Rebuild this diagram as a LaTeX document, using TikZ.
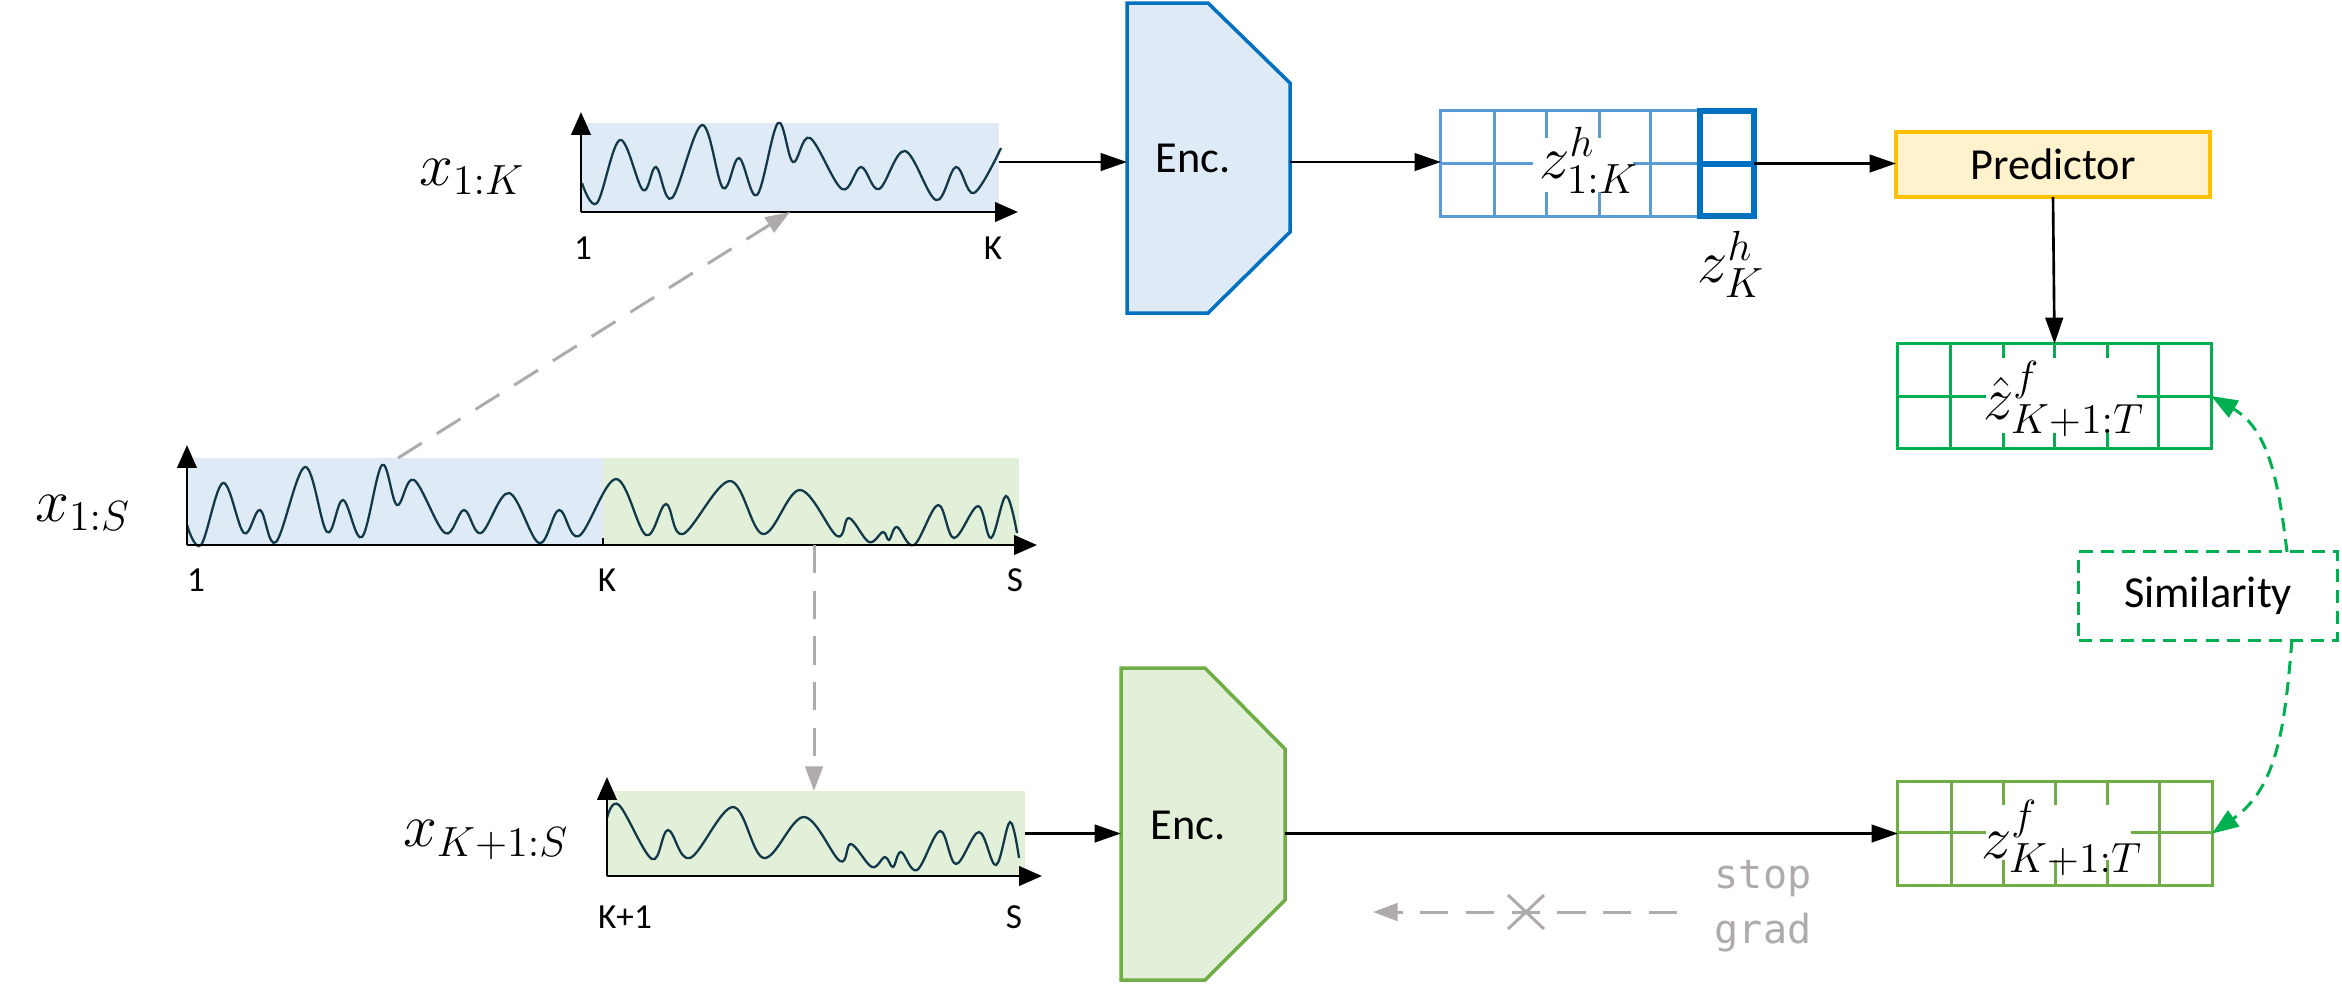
\documentclass[tikz,border=0pt]{standalone}
\usepackage[no-math]{fontspec}
\setmainfont{Carlito}
\newfontfamily\codefont{DejaVu Sans Mono}
\usetikzlibrary{arrows.meta,calc}

\definecolor{lblue}{HTML}{DEEBF7}
\definecolor{dblue}{HTML}{0070C0}
\definecolor{gblue}{HTML}{5B9BD5}
\definecolor{lgreen}{HTML}{E2F0D9}
\definecolor{mgreen}{HTML}{70AD47}
\definecolor{bgreen}{HTML}{00B050}
\definecolor{lyellow}{HTML}{FFF2CC}
\definecolor{dyellow}{HTML}{FFC000}
\definecolor{lgray}{HTML}{AFABAB}
\definecolor{wavec}{HTML}{12394A}

\begin{document}
\begin{tikzpicture}[x=0.01cm, y=-0.01cm,
  every node/.style={inner sep=0pt, outer sep=0pt},
  arr/.style={-{Triangle[length=7.5pt,width=5pt]}, line width=0.75pt, black},
  axisarr/.style={-{Triangle[length=6.5pt,width=5.5pt]}, line width=0.8pt, black},
  wavy/.style={draw=wavec, line width=0.65pt},
  gdash/.style={-{Triangle[length=7pt,width=5pt]}, lgray, line width=0.85pt, dash pattern=on 8pt off 5pt},
  gndash/.style={-{Triangle[length=7.5pt,width=5.5pt]}, bgreen, line width=0.85pt, dash pattern=on 3.7pt off 2.3pt},
  sans/.style={font=\fontsize{12.6}{15}\selectfont},
  ticklbl/.style={font=\fontsize{10}{12}\selectfont},
  mlbl/.style={font=\fontsize{16.5}{19}\selectfont},
  gridline/.style={line width=0.85pt},
]
\useasboundingbox (0,0) rectangle (2342,990);

% ---------- top chart x_{1:K} ----------
\node[minimum width=4.18cm, minimum height=0.89cm, fill=lblue] (g1) at (790,167.5) {};
\draw[wavy] plot[smooth, tension=0.6] coordinates {(582,183) (597,203) (620,140) (643,190) (656,167) (672,198) (702,125) (723,188) (739,158) (757,195) (778,123) (793,162) (810,138) (842,189) (861,167) (879,189) (905,151) (936,200) (956,167) (974,193) (1001,148)};
\draw[axisarr] (581,212) -- (581,112);
\draw[axisarr] (581,212) -- (1018,212);
\node[ticklbl] (t11) at (583,248) {1};
\node[ticklbl] (t12) at (993,248) {K};
\node[mlbl] (lx1) at (472,177) {$x_{1{:}K}$};

% ---------- middle chart x_{1:S} ----------
\node[minimum width=4.16cm, minimum height=0.87cm, fill=lblue] (g2a) at (395,501.5) {};
\node[minimum width=4.16cm, minimum height=0.87cm, fill=lgreen] (g2b) at (811,501.5) {};
\draw[wavy] plot[smooth, tension=0.6] coordinates {(187,525) (201,545) (223,483) (244,533) (260,510) (276,542) (305,467) (327,532) (343,500) (362,537) (382,465) (397,505) (414,480) (445,533) (464,510) (481,533) (509,493) (539,543) (559,510) (579,536) (616,479) (646,535) (666,504) (683,534) (730,481) (763,534) (800,490) (837,536) (849,518) (869,542) (883,532) (889,540) (897,527) (914,545) (938,505) (954,538) (978,506) (991,538) (1006,496) (1017,533)};
\draw[axisarr] (187,545) -- (187,445);
\draw[axisarr] (187,545) -- (1037,545);
\draw[black, line width=0.4pt] (603,538) -- (603,545);
\node[ticklbl] (t21) at (196,580) {1};
\node[ticklbl] (t22) at (607,580) {K};
\node[ticklbl] (t23) at (1015,580) {S};
\node[mlbl] (lx2) at (83,513) {$x_{1{:}S}$};

% ---------- bottom chart x_{K+1:S} ----------
\node[minimum width=4.18cm, minimum height=0.85cm, fill=lgreen] (g3) at (816,833.5) {};
\draw[wavy] plot[smooth, tension=0.6] coordinates {(607,818) (619,805) (652,859) (668,830) (690,858) (733,807) (764,858) (804,817) (840,861) (851,844) (872,867) (885,857) (893,867) (901,852) (917,870) (940,831) (956,864) (979,832) (996,865) (1010,822) (1019,858)};
\draw[axisarr] (607,876) -- (607,777);
\draw[axisarr] (607,876) -- (1042,876);
\node[ticklbl] (t31) at (625,917) {K+1};
\node[ticklbl] (t32) at (1014,917) {S};
\node[mlbl] (lx3) at (486,840) {$x_{K+1{:}S}$};

% ---------- encoders ----------
\filldraw[fill=lblue, draw=dblue, line width=1pt] (1127,3) -- (1208,3) -- (1290,83) -- (1290,232) -- (1208,313) -- (1127,313) -- cycle;
\node[minimum width=1.63cm, minimum height=3.10cm] (enc1) at (1208.5,158) {};
\node[sans] (enc1t) at (1193,158) {Enc.};

\filldraw[fill=lgreen, draw=mgreen, line width=1pt] (1121,668) -- (1205,668) -- (1285,749) -- (1285,900) -- (1205,980) -- (1121,980) -- cycle;
\node[minimum width=1.64cm, minimum height=3.12cm] (enc2) at (1203,824) {};
\node[sans] (enc2t) at (1188,825) {Enc.};

% ---------- z^h grid ----------
\node[draw=gblue, gridline, minimum width=3.13cm, minimum height=1.05cm] (zh) at (1597.5,163.5) {};
\draw[gblue, gridline] (1494,111) -- (1494,216) (1546,111) -- (1546,216) (1599,111) -- (1599,216) (1650,111) -- (1650,216) (1441,163.5) -- (1700,163.5);
\fill[white] (1533,138) rectangle (1633,192);
\node[draw=dblue, line width=1.7pt, minimum width=0.54cm, minimum height=1.05cm] (zK) at (1727,163.5) {};
\draw[dblue, line width=1.7pt] (zK.west) -- (zK.east);
\node[mlbl] (lzh) at (1589,160) {$z^{h}_{1{:}K}$};
\node[mlbl] (lzK) at (1731,264) {$z^{h}_{K}$};

% ---------- predictor ----------
\node[draw=dyellow, fill=lyellow, line width=1pt, minimum width=3.14cm, minimum height=0.65cm, sans] (pred) at (2053,164.5) {Predictor};

% ---------- hat z grid ----------
\node[draw=bgreen, gridline, minimum width=3.13cm, minimum height=1.04cm] (zhat) at (2054.5,396) {};
\draw[bgreen, gridline] (1950,344) -- (1950,448) (2003,344) -- (2003,448) (2054,344) -- (2054,448) (2107,344) -- (2107,448) (2158,344) -- (2158,448) (1898,396) -- (2211,396);
\fill[white] (1986,358) rectangle (2137,433);
\node[mlbl] (lzhat) at (2064,399) {$\hat z^{f}_{K+1{:}T}$};

% ---------- z^f grid ----------
\node[draw=mgreen, gridline, minimum width=3.14cm, minimum height=1.03cm] (zf) at (2055,833.5) {};
\draw[mgreen, gridline] (1951,782) -- (1951,885) (2003,782) -- (2003,885) (2055,782) -- (2055,885) (2107,782) -- (2107,885) (2159,782) -- (2159,885) (1898,832) -- (2212,832);
\fill[white] (1986,805) rectangle (2131,860);
\node[mlbl] (lzf) at (2062,838) {$z^{f}_{K+1{:}T}$};

% ---------- similarity ----------
\node[draw=bgreen, line width=0.85pt, dash pattern=on 3.7pt off 2.3pt, minimum width=2.58cm, minimum height=0.88cm, sans] (sim) at (2208,596) {Similarity};

% ---------- connectors ----------
\coordinate (y162) at (0,162);
\draw[arr] (g1.east |- y162) -- (enc1.west |- y162);
\draw[arr] (enc1.east |- y162) -- (zh.west |- y162);
\draw[arr] (zK.east) -- (pred.west |- zK.east);
\draw[arr] (pred.south) -- (zhat.north);
\draw[arr] (g3.east) -- (enc2.west |- g3.east);
\draw[arr] (enc2.east |- zf.west) -- (zf.west);

\coordinate (d1s) at (398,458);
\coordinate (d1e) at (790,212);
\draw[gdash] (d1s) -- (d1e);
\coordinate (d2) at (814,0);
\draw[gdash] (g2b.south -| d2) -- (g3.north -| d2);

\coordinate (s1) at (2287,0);
\coordinate (s2) at (2292,0);
\draw[gndash] (sim.north -| s1) to[out=97, in=-30] (zhat.east);
\draw[gndash] (sim.south -| s2) to[out=-95, in=35] (zf.east);

% ---------- stop grad ----------
\coordinate (sgs) at (1677,912);
\coordinate (sge) at (1373,912);
\draw[gdash] (sgs) -- (sge);
\draw[lgray, line width=0.85pt] (1508,895) -- (1544,929) (1508,929) -- (1544,895);
\node[lgray, font=\codefont\fontsize{11.4}{15.6}\selectfont, align=center] (sg) at (1763,906) {stop\\grad};
\end{tikzpicture}
\end{document}
